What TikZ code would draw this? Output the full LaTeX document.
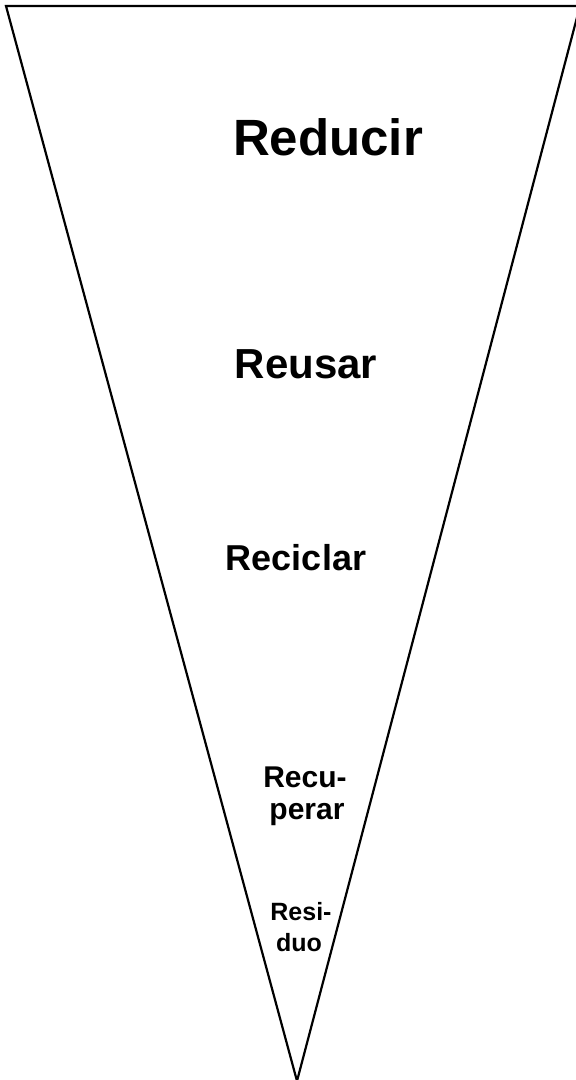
\documentclass[tikz,border=0pt]{standalone}
\usepackage{fontspec}
\setmainfont{Liberation Sans}
\begin{document}
\begin{tikzpicture}[x=1pt,y=-1pt,
  lbl/.style={inner sep=0pt,anchor=base,font=\bfseries}]
\useasboundingbox (0,0) rectangle (576,1080);
\coordinate (tl) at (6,6);
\coordinate (tr) at (580,6);
\coordinate (ap) at (297,1081);
\begin{scope}
\clip (0,0) rectangle (576,1080);
\draw[line width=2.2pt,line join=miter] (tl) -- (tr) -- (ap) -- cycle;
\end{scope}
\node[lbl,font=\bfseries\fontsize{51}{51}\selectfont] (reducir) at (328,155) {Reducir};
\node[lbl,font=\bfseries\fontsize{42}{42}\selectfont] (reusar) at (306,378) {Reusar};
\node[lbl,font=\bfseries\fontsize{36}{36}\selectfont] (reciclar) at (296,570) {Reciclar};
\node[lbl,font=\bfseries\fontsize{30}{30}\selectfont] (recu) at (305,787) {Recu-};
\node[lbl,font=\bfseries\fontsize{30}{30}\selectfont] (perar) at (307,819) {perar};
\node[lbl,font=\bfseries\fontsize{25}{25}\selectfont] (resi) at (301,920) {Resi-};
\node[lbl,font=\bfseries\fontsize{25}{25}\selectfont] (duo) at (299,951) {duo};
\end{tikzpicture}
\end{document}
